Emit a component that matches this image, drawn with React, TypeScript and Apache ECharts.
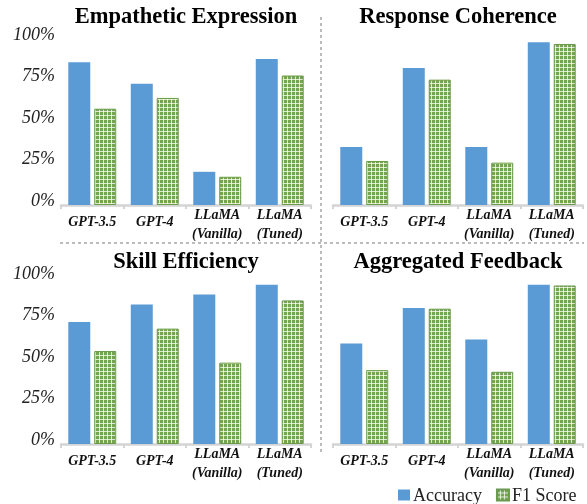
import React, { useEffect, useRef } from "react";
import * as echarts from "echarts";

const categories = ["GPT-3.5", "GPT-4", "LLaMA\n(Vanilla)", "LLaMA\n(Tuned)"];
const panelTitles = ["Empathetic Expression", "Response Coherence", "Skill Efficiency", "Aggregated Feedback"];
const yTicks = [0, 25, 50, 75, 100];

const empatheticAcc = [86, 73, 20, 88];
const empatheticF1 = [58, 64.5, 17, 78];
const coherenceAcc = [35, 82.5, 35, 98];
const coherenceF1 = [26.5, 75.5, 25.5, 97];
const skillAcc = [73.5, 84, 90, 96];
const skillF1 = [56, 69.5, 49, 86.5];
const aggregatedAcc = [60.5, 82, 63, 96];
const aggregatedF1 = [44.5, 81.5, 43.5, 95.5];

const accSeries = [empatheticAcc, coherenceAcc, skillAcc, aggregatedAcc];
const f1Series = [empatheticF1, coherenceF1, skillF1, aggregatedF1];

const SERIF = "'Liberation Serif', 'Times New Roman', serif";

function makePattern() {
  const c = document.createElement("canvas");
  c.width = 4;
  c.height = 4;
  const ctx = c.getContext("2d")!;
  ctx.fillStyle = "#74a450";
  ctx.fillRect(0, 0, 4, 4);
  ctx.fillStyle = "rgba(255,255,255,0.75)";
  ctx.fillRect(3, 0, 1, 4);
  ctx.fillRect(0, 3, 4, 1);
  return c;
}

export default function App() {
  const ref = useRef<HTMLDivElement>(null);
  useEffect(() => {
    if (!ref.current) return;
    const chart = echarts.init(ref.current, undefined, { renderer: "svg" });
    const pattern = { image: makePattern(), repeat: "repeat" };

    const grids = [
      { left: 61, top: 39, width: 250, height: 166 },
      { left: 333, top: 39, width: 250, height: 166 },
      { left: 61, top: 278, width: 250, height: 166 },
      { left: 333, top: 278, width: 250, height: 166 },
    ];

    const xAxes = grids.map((_, i) => ({
      type: "category",
      gridIndex: i,
      data: categories,
      axisLine: { lineStyle: { color: "#d4d4d4", width: 2.5 } },
      axisTick: { show: true, length: 4, lineStyle: { color: "#d4d4d4", width: 2 } },
      axisLabel: {
        interval: 0,
        margin: 0,
        hideOverlap: false,
        formatter: (v: string) =>
          v.includes("\n")
            ? v.split("\n").map((s) => `{m|${s}}`).join("\n")
            : `{s|${v}}`,
        rich: {
          m: { fontFamily: SERIF, fontSize: 14, fontWeight: "bold", fontStyle: "italic", color: "#111", lineHeight: 19 },
          s: { fontFamily: SERIF, fontSize: 14, fontWeight: "bold", fontStyle: "italic", color: "#111", lineHeight: 32 },
        },
      },
    }));

    const yAxes = grids.map((_, i) => ({
      type: "value",
      gridIndex: i,
      min: yTicks[0],
      max: yTicks[yTicks.length - 1],
      interval: 25,
      splitLine: { show: false },
      axisLine: { show: false },
      axisTick: { show: false },
      axisLabel: {
        show: i % 2 === 0,
        formatter: "{value}%",
        fontFamily: SERIF,
        fontSize: 18,
        fontStyle: "italic",
        color: "#222",
        margin: 6,
        verticalAlign: "bottom",
        lineHeight: 11,
      },
    }));

    const series: any[] = [];
    for (let i = 0; i < 4; i++) {
      series.push({
        name: "Accuracy",
        type: "bar",
        xAxisIndex: i,
        yAxisIndex: i,
        data: accSeries[i],
        barWidth: 22,
        barGap: "18%",
        itemStyle: { color: "#5b9bd5" },
      });
      series.push({
        name: "F1 Score",
        type: "bar",
        xAxisIndex: i,
        yAxisIndex: i,
        data: f1Series[i],
        barWidth: 22,
        barGap: "18%",
        itemStyle: { color: pattern, borderColor: "#6a9a4c", borderWidth: 1 },
      });
    }

    const titlePos = [
      [186, 15],
      [458, 15],
      [186, 260],
      [458, 260],
    ];

    const dash = { stroke: "#a6a6a6", lineWidth: 1.5, lineDash: [3, 3] };

    chart.setOption({
      animation: false,
      grid: grids,
      xAxis: xAxes,
      yAxis: yAxes,
      series,
      legend: {
        data: ["Accuracy", "F1 Score"],
        left: 398,
        top: 486,
        padding: 0,
        itemWidth: 12,
        itemHeight: 11,
        itemGap: 14,
        icon: "rect",
        textStyle: { fontFamily: SERIF, fontSize: 18, color: "#222", padding: [0, 0, 0, -2] },
      },
      graphic: [
        ...panelTitles.map((t, i) => ({
          type: "text",
          x: titlePos[i][0],
          y: titlePos[i][1],
          style: {
            text: t,
            fontFamily: SERIF,
            fontSize: 22.5,
            fontWeight: "bold",
            fill: "#000",
            textAlign: "center",
            textVerticalAlign: "middle",
          },
        })),
        { type: "line", shape: { x1: 321, y1: 17, x2: 321, y2: 452 }, style: dash },
        { type: "line", shape: { x1: 60, y1: 243, x2: 584, y2: 243 }, style: dash },
      ],
    });
    return () => chart.dispose();
  }, []);
  return <div ref={ref} style={{ position: "fixed", left: 0, top: 0, width: 587, height: 504 }} />;
}
